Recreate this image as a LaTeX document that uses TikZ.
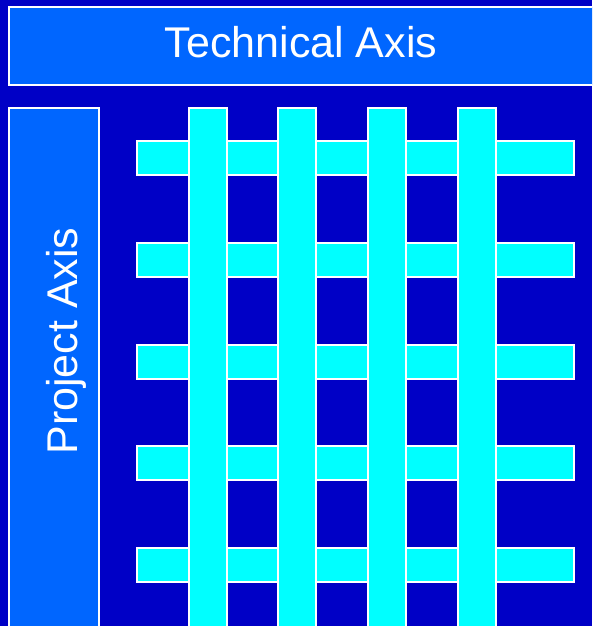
\documentclass[tikz,border=0pt]{standalone}
\usepackage{fontspec}
\setmainfont{Liberation Sans}
\definecolor{bgblue}{HTML}{0000C6}
\definecolor{boxblue}{HTML}{0066FF}
\definecolor{barcyan}{HTML}{00FFFF}
\begin{document}
\begin{tikzpicture}[x=1pt,y=-1pt,
  panel/.style={fill=boxblue,draw=white,line width=1.3pt},
  bar/.style={fill=barcyan,draw=white,line width=1.5pt},
  lbl/.style={text=white,font=\fontsize{43}{43}\selectfont,inner sep=0pt}]
\useasboundingbox (0,0) rectangle (592,626);
\clip (0,0) rectangle (592,626);
\fill[bgblue] (0,0) rectangle (592,626);
% panels
\draw[panel] (9,7) rectangle (600,85);
\draw[panel] (9,108) rectangle (99,640);
\node[lbl,anchor=base] (tech) at (301,58) {Technical Axis};
\node[lbl,anchor=base,rotate=90] (proj) at (77,341) {Project Axis};
% horizontal bars
\foreach \y in {141,243,345,446,548}
  \draw[bar] (137,\y) rectangle (574,\y+34);
% vertical bars
\foreach \x in {189,278,368,458}
  \draw[bar] (\x,108) rectangle (\x+38,640);
\end{tikzpicture}
\end{document}
